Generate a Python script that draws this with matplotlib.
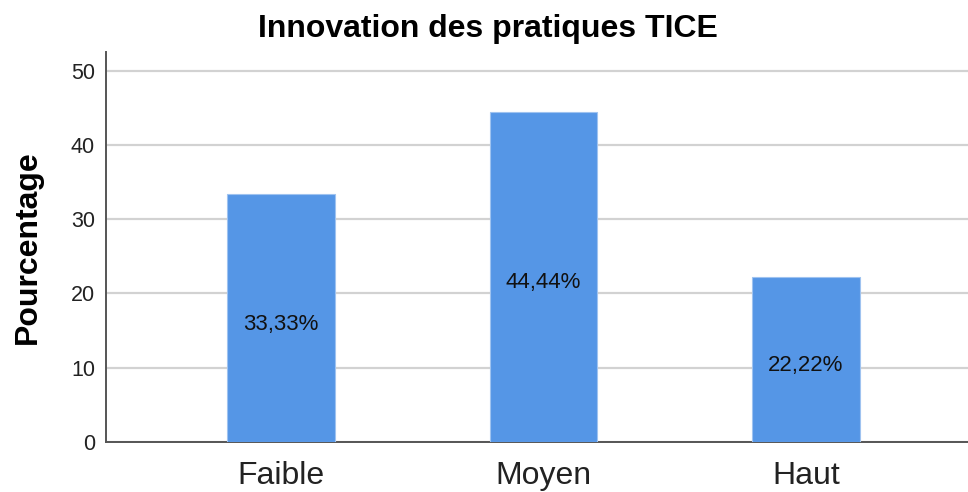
import numpy as np
import matplotlib.pyplot as plt
import matplotlib.transforms as mtransforms

plt.rcParams['font.family'] = ['Liberation Sans', 'DejaVu Sans']

categories = ['Faible', 'Moyen', 'Haut']
percentages = [33.33, 44.44, 22.22]
bar_labels = ['33,33%', '44,44%', '22,22%']
y_ticks = [0, 10, 20, 30, 40, 50]

fig = plt.figure(figsize=(9.68, 4.92), dpi=100)
ax = fig.add_axes([106 / 968, 1 - 442 / 492, 1 - 106 / 968, 390 / 492])

x = np.arange(len(categories))
ax.bar(x, percentages, width=0.41, color='#5596e6', edgecolor='#9fc3f0', linewidth=0.8, zorder=3)

# labels sit a little below the bar's mid-height
shift = mtransforms.offset_copy(ax.transData, fig=fig, x=0, y=-6, units='dots')
for xi, val, lab in zip(x, percentages, bar_labels):
    ax.text(xi, val / 2, lab, ha='center', va='center', fontsize=16, color='#111111',
            zorder=4, transform=shift)

ax.set_xlim(-0.667, 2.617)
ax.set_ylim(0, 52.5)
ax.set_xticks(x)
ax.set_xticklabels(categories, fontsize=23, color='#222222')
ax.set_yticks(y_ticks)
ax.set_yticklabels([str(t) for t in y_ticks], fontsize=15.5, color='#222222')
ax.tick_params(axis='both', length=0)
ax.tick_params(axis='y', pad=8)
ax.tick_params(axis='x', pad=14)

ax.yaxis.grid(True, color='#d2d2d2', linewidth=1.6, zorder=0)
ax.set_axisbelow(True)

for spine in ['top', 'right']:
    ax.spines[spine].set_visible(False)
for spine in ['left', 'bottom']:
    ax.spines[spine].set_color('#555555')
    ax.spines[spine].set_linewidth(1.4)

ax.set_ylabel('Pourcentage', fontsize=23, fontweight='bold', labelpad=20)
fig.text(0.504, 1 - 37 / 492, 'Innovation des pratiques TICE', ha='center', va='baseline',
         fontsize=23, fontweight='bold')

fig.savefig('out.png', dpi=100)
